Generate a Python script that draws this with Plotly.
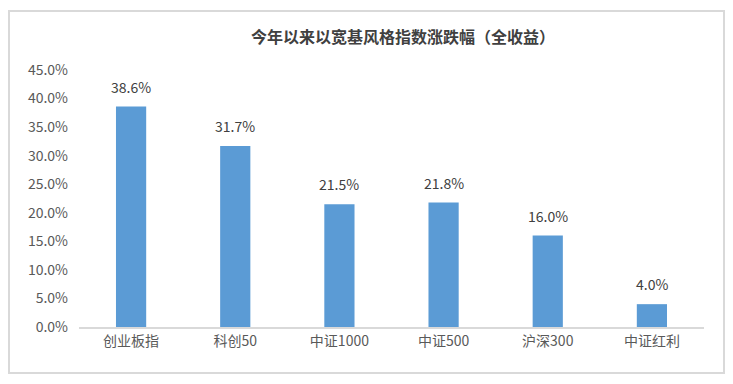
import plotly.graph_objects as go

categories = ["创业板指", "科创50", "中证1000", "中证500", "沪深300", "中证红利"]
values = [38.6, 31.7, 21.5, 21.8, 16.0, 4.0]
y_ticks = [0, 5, 10, 15, 20, 25, 30, 35, 40, 45]
y_tick_labels = [f"{v:.1f}%" for v in y_ticks]
title = "今年以来以宽基风格指数涨跌幅（全收益）"

FONT = "Noto Sans CJK SC"

# page body has an 8px margin; figure spans page (8..733, 8..384)
OFF = 8
W, H = 733 - OFF, 384 - OFF
L, R, T, B = 79 - OFF, 29, 70 - OFF, 57
pw, ph = W - L - R, H - T - B

def px2x(px):
    return (px - OFF - L) / pw

def py2y(py):
    return (H - B - (py - OFF)) / ph

fig = go.Figure()
fig.add_trace(go.Bar(
    x=categories,
    y=values,
    marker=dict(color="#5B9BD5", line=dict(width=0)),
    width=0.29,
    hoverinfo="x+y",
))

annotations = [
    dict(
        x=c, y=v, xref="x", yref="y",
        text=f"{v:.1f}%", showarrow=False,
        yanchor="bottom", yshift=8,
        font=dict(family=FONT, size=14, color="#404040"),
    )
    for c, v in zip(categories, values)
]

fig.update_layout(
    width=W, height=H,
    margin=dict(l=L, r=R, t=T, b=B, pad=0),
    paper_bgcolor="white",
    plot_bgcolor="white",
    showlegend=False,
    font=dict(family=FONT, color="#595959", size=14),
    title=dict(
        text="<b>" + title + "</b>",
        x=px2x(403), xref="paper", xanchor="center",
        y=1 - (37 - OFF) / H, yref="container", yanchor="middle",
        font=dict(family=FONT, size=16, color="#404040"),
    ),
    xaxis=dict(
        showline=True, linecolor="#D9D9D9", linewidth=2,
        ticks="", showgrid=False,
        tickfont=dict(family=FONT, size=14, color="#595959"),
    ),
    yaxis=dict(
        range=[0, 45],
        tickvals=y_ticks,
        ticktext=y_tick_labels,
        showgrid=False, showline=False, zeroline=False,
        ticks="", ticklabelstandoff=10,
        tickfont=dict(family=FONT, size=14, color="#595959"),
    ),
    annotations=annotations,
    shapes=[dict(
        type="rect", xref="paper", yref="paper",
        x0=px2x(9), x1=px2x(724), y0=py2y(373), y1=py2y(11),
        line=dict(color="#D9D9D9", width=2),
        fillcolor="rgba(0,0,0,0)", layer="below",
    )],
)

fig.write_html("out.html")
